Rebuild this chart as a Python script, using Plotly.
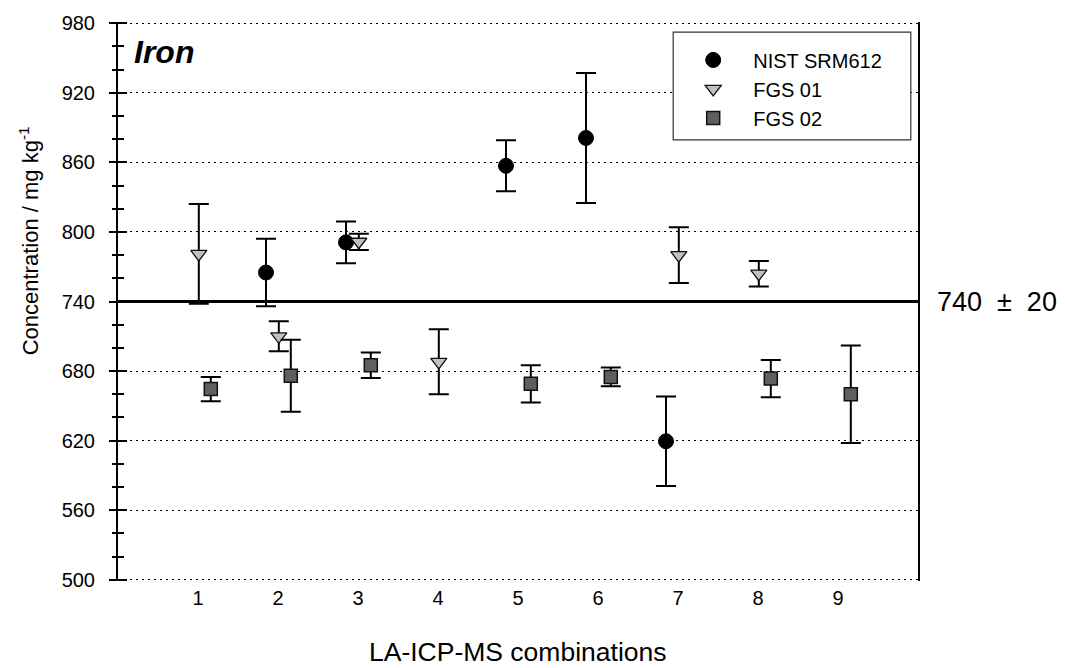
import plotly.graph_objects as go

# LA-ICP-MS combinations on the x axis
categories = [1, 2, 3, 4, 5, 6, 7, 8, 9]
category_labels = [str(c) for c in categories]

# Certified iron value and its uncertainty (mg/kg)
ref_value = 740
ref_uncertainty = 20

# NIST SRM612 results
nist_cat = [2, 3, 5, 6, 7]
nist_val = [765, 791, 857, 881, 619.5]
nist_err = [29, 18, 22, 56, 38.5]

# FGS 01 results
fgs01_cat = [1, 2, 3, 4, 7, 8]
fgs01_val = [781, 710, 791.5, 688, 780, 764]
fgs01_err = [43, 13, 7, 28, 24, 11]

# FGS 02 results
fgs02_cat = [1, 2, 3, 5, 6, 8, 9]
fgs02_val = [664.5, 676, 685, 669, 675, 673.5, 660]
fgs02_err = [10.5, 31, 11, 16, 8, 16, 42]

# horizontal shift of each series within a category
SHIFT = {"NIST SRM612": -0.15, "FGS 01": 0.01, "FGS 02": 0.16}

FONT = "Liberation Sans, Arial, Helvetica, sans-serif"

fig = go.Figure()


def add_series(name, cats, vals, errs, marker):
    fig.add_trace(go.Scatter(
        x=[c + SHIFT[name] for c in cats],
        y=vals,
        mode="markers",
        name=name,
        marker=marker,
        error_y=dict(type="data", array=errs, visible=True,
                     color="black", thickness=2, width=10),
        cliponaxis=False,
    ))


add_series("NIST SRM612", nist_cat, nist_val, nist_err,
           dict(symbol="circle", size=15, color="black",
                line=dict(color="black", width=1)))
add_series("FGS 01", fgs01_cat, fgs01_val, fgs01_err,
           dict(symbol="triangle-down", size=14, color="#c0c0c0",
                line=dict(color="#111111", width=1.3)))
add_series("FGS 02", fgs02_cat, fgs02_val, fgs02_err,
           dict(symbol="square", size=13, color="#5f5f5f",
                line=dict(color="#111111", width=1.5)))

# certified value line, on the overlay axis that carries the inner ticks
fig.add_trace(go.Scatter(
    x=[0, 10], y=[ref_value, ref_value], mode="lines",
    line=dict(color="black", width=3), showlegend=False,
    hoverinfo="skip", yaxis="y2", cliponaxis=False,
))

# a hair of padding so the 500 and 980 grid lines and ticks are kept
yrange = [499, 981]

fig.update_layout(
    width=1065, height=668, autosize=False,
    margin=dict(l=118, r=147, t=20, b=87, pad=0),
    paper_bgcolor="white", plot_bgcolor="white",
    font=dict(family=FONT, color="black", size=20),
    showlegend=True,
    legend=dict(
        x=0.694, y=0.967, xanchor="left", yanchor="top",
        bgcolor="rgba(0,0,0,0)", borderwidth=0, itemwidth=70,
        font=dict(size=20, family=FONT), tracegroupgap=0,
    ),
    xaxis=dict(
        range=[0, 10], tickmode="array", tickvals=categories,
        ticktext=category_labels, showgrid=False, zeroline=False,
        showline=False, ticks="", tickfont=dict(size=20),
        ticklabelstandoff=3,
    ),
    yaxis=dict(
        range=yrange, tick0=500, dtick=60, zeroline=False,
        showline=True, linecolor="black", linewidth=2, mirror=True,
        ticks="outside", ticklen=7, tickwidth=1.5, tickcolor="black",
        showgrid=True, gridcolor="black", gridwidth=1, griddash="2px,4px",
        tickfont=dict(size=20), ticklabelstandoff=10,
        minor=dict(tick0=500, dtick=20, ticks="outside", ticklen=4,
                   tickwidth=1.5, tickcolor="black", showgrid=False),
    ),
    yaxis2=dict(
        range=yrange, overlaying="y", side="left", anchor="x",
        tick0=500, dtick=60, zeroline=False, showline=False,
        ticks="inside", ticklen=9, tickwidth=1.5, tickcolor="black",
        showgrid=False, showticklabels=False,
        minor=dict(tick0=500, dtick=20, ticks="inside", ticklen=6,
                   tickwidth=1.5, tickcolor="black", showgrid=False),
    ),
    shapes=[
        dict(type="rect", xref="paper", yref="paper",
             x0=0.694, x1=0.991, y0=0.789, y1=0.982,
             line=dict(color="#333333", width=1.2),
             fillcolor="white", layer="above"),
    ],
    annotations=[
        dict(text="Iron", xref="paper", yref="paper", x=0.017, y=0.946,
             xanchor="left", yanchor="middle", showarrow=False,
             font=dict(size=32, weight="bold", style="italic", family=FONT)),
        dict(text="740&nbsp;&nbsp;±&nbsp;&nbsp;20", xref="paper", yref="y",
             x=1.0215, y=ref_value, xanchor="left", yanchor="middle",
             showarrow=False, font=dict(size=27)),
        dict(text="Concentration / mg kg<sup>-1</sup>", xref="paper",
             yref="paper", x=-0.111, y=0.608, xanchor="center",
             yanchor="middle", textangle=-90, showarrow=False,
             font=dict(size=22)),
        dict(text="LA-ICP-MS combinations", xref="paper", yref="paper",
             x=0.5, y=-0.127, xanchor="center", yanchor="middle",
             showarrow=False, font=dict(size=26.5)),
    ],
)

fig.write_html("out.html")
